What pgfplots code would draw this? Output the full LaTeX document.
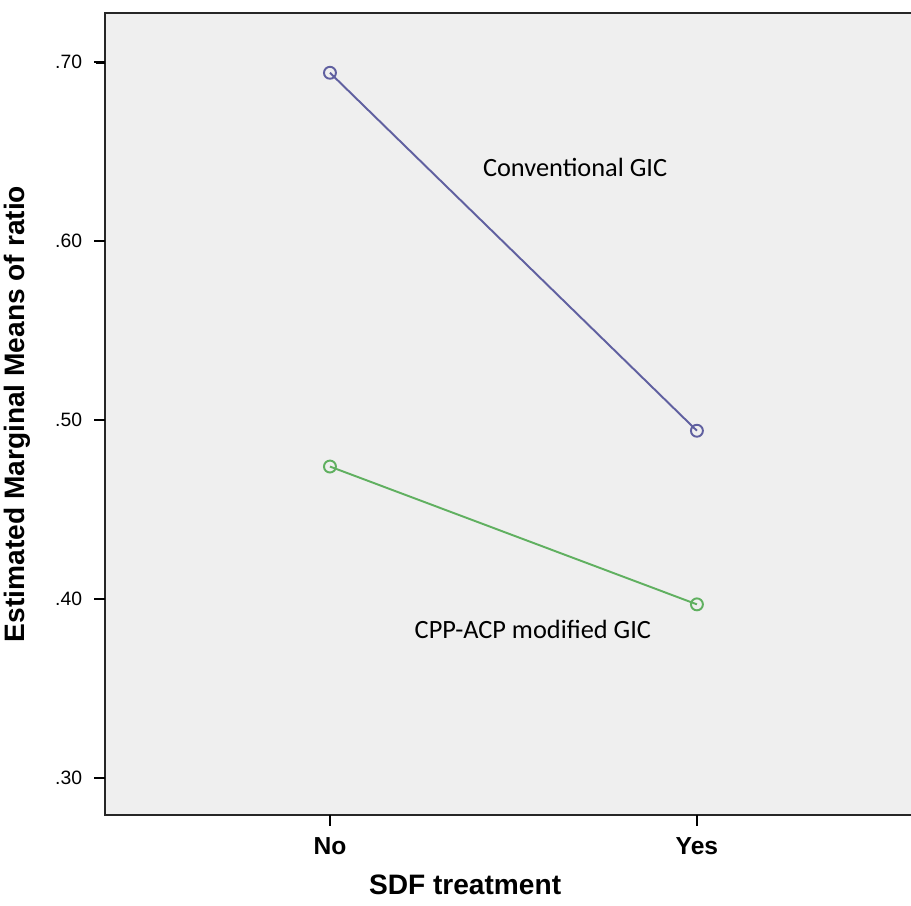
\documentclass[border=0pt]{standalone}
\usepackage{pgfplots}
\pgfplotsset{compat=1.18}
\usepackage{fontspec}
\setmainfont{Liberation Sans}
\newfontfamily\calfont{Carlito}
\definecolor{bgpanel}{RGB}{239,239,239}
\definecolor{conv}{RGB}{96,96,160}
\definecolor{cpp}{RGB}{96,176,96}
\begin{document}
\begin{tikzpicture}
\begin{axis}[
    name=ax,
    scale only axis,
    width=8.11cm, height=8.02cm,
    xmin=-0.613, xmax=1.597,
    ymin=0.2793, ymax=0.7274,
    axis line style={black!85, line width=0.6pt},
    axis background/.style={fill=bgpanel},
    xtick={0,1}, xticklabels={No,Yes},
    ytick={0.3,0.4,0.5,0.6,0.7},
    tick pos=left,
    tick align=outside,
    major tick length=3pt,
    major tick style={draw=black, line width=0.8pt},
    /pgf/number format/fixed,
    /pgf/number format/fixed zerofill,
    /pgf/number format/precision=2,
    /pgf/number format/skip 0.,
    /pgf/number format/assume math mode=true,
    yticklabel style={font=\fontsize{5.5}{6}\selectfont},
    xticklabel style={font=\bfseries\fontsize{7}{8}\selectfont},
    xlabel={SDF treatment},
    ylabel={Estimated Marginal Means of ratio},
    label style={font=\bfseries\fontsize{8}{9}\selectfont},
    xlabel style={at={(axis description cs:0.444,0)}, anchor=north, yshift=-0.47cm},
    ylabel style={at={(axis description cs:0,0.5)}, anchor=south, yshift=0.62cm},
    clip=false,
]
\addplot[conv, line width=0.55pt, mark=o, mark size=1.7pt, mark options={solid}] coordinates {(0,0.694) (1,0.494)};
\addplot[cpp, line width=0.55pt, mark=o, mark size=1.7pt, mark options={solid}] coordinates {(0,0.474) (1,0.397)};
\node[font=\calfont\fontsize{7.5}{9}\selectfont] at (axis cs:0.668,0.641) {Conventional GIC};
\node[font=\calfont\fontsize{7.5}{9}\selectfont] at (axis cs:0.553,0.383) {CPP-ACP modified GIC};
\end{axis}
% tick marks drawn again outside the axis
\foreach \dy in {0.370,2.160,3.950,5.740,7.529}
  \draw[black, line width=0.8pt] ([yshift=\dy cm]ax.south west) -- ++(-0.09cm,0);
\foreach \dx in {2.250,5.919}
  \draw[black, line width=0.8pt] ([xshift=\dx cm]ax.south west) -- ++(0,-0.10cm);
\pgfresetboundingbox
\path ([shift={(-1.05cm,-0.90cm)}]ax.south west) rectangle ([shift={(-0.05cm,0.13cm)}]ax.north east);
\end{tikzpicture}
\end{document}
